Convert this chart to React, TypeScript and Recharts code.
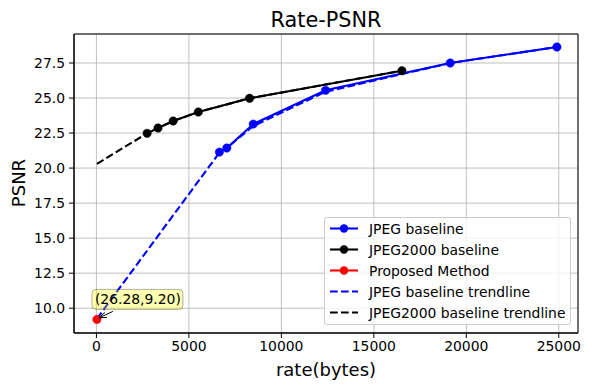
import React from 'react';
import { LineChart, Line, XAxis, YAxis, CartesianGrid, ReferenceArea, Legend } from 'recharts';

// values
const jpegRate = [6650, 7050, 8480, 12390, 19130, 24900];
const jpegPsnr = [21.14, 21.43, 23.14, 25.55, 27.5, 28.64];
const j2kRate = [2740, 3330, 4150, 5510, 8280, 16520];
const j2kPsnr = [22.48, 22.86, 23.36, 24.0, 24.98, 26.95];
const proposedRate = [26.28];
const proposedPsnr = [9.2];
const jpegTrendRate = [26.28, 6650, 7050, 8480, 12390, 19130, 24900];
const jpegTrendPsnr = [9.25, 21.1, 21.45, 23.0, 25.45, 27.5, 28.64];
const j2kTrendRate = [26.28, 2740, 3330, 4150, 5510, 8280, 16520];
const j2kTrendPsnr = [20.3, 22.48, 22.86, 23.36, 24.0, 24.98, 26.95];

const xTicks = [0, 5000, 10000, 15000, 20000, 25000];
const yTicks = [10, 12.5, 15, 17.5, 20, 22.5, 25, 27.5];
const xDomain = [-1213, 26040];
const yDomain = [8.23, 29.57];

const zip = (xs: number[], ys: number[]) => xs.map((x, i) => ({ x, y: ys[i] }));

const series = [
  { name: 'JPEG baseline', data: zip(jpegRate, jpegPsnr), color: '#0000ff', dashed: false },
  { name: 'JPEG2000 baseline', data: zip(j2kRate, j2kPsnr), color: '#000000', dashed: false },
  { name: 'Proposed Method', data: zip(proposedRate, proposedPsnr), color: '#ff0000', dashed: false },
  { name: 'JPEG baseline trendline', data: zip(jpegTrendRate, jpegTrendPsnr), color: '#0000ff', dashed: true },
  { name: 'JPEG2000 baseline trendline', data: zip(j2kTrendRate, j2kTrendPsnr), color: '#000000', dashed: true },
];

const FONT = 'DejaVu Sans, sans-serif';
const DASH = '7.7 3.3';

function renderLegend() {
  return (
    <div
      style={{
        border: '1px solid #cccccc',
        borderRadius: 3,
        background: 'rgba(255,255,255,0.8)',
        width: 245,
        height: 106,
        boxSizing: 'content-box',
        fontFamily: FONT,
        fontSize: 13.9,
        color: '#000',
      }}
    >
      {series.map((s, i) => (
        <div key={s.name} style={{ position: 'absolute', left: 0, top: 1 + i * 21, height: 21, display: 'flex', alignItems: 'center' }}>
          <svg width={40} height={21} style={{ marginLeft: 5 }}>
            <line x1={1} y1={10.5} x2={29} y2={10.5} stroke={s.color} strokeWidth={2.1} strokeDasharray={s.dashed ? DASH : undefined} />
            {!s.dashed && <circle cx={15} cy={10.5} r={4.2} fill={s.color} />}
          </svg>
          <span style={{ whiteSpace: 'nowrap' }}>{s.name}</span>
        </div>
      ))}
    </div>
  );
}

function Annotation(props: any) {
  const { x, y } = props;
  if (x == null || y == null) return null;
  const px = x;
  const py = y - 1;
  return (
    <g>
      <rect x={px - 5} y={py - 29} width={91} height={20} rx={4} fill="yellow" fillOpacity={0.3} stroke="#000" strokeOpacity={0.3} />
      <text x={px - 2} y={py - 14} fontFamily={FONT} fontSize={13.9} fill="#000">(26.28,9.20)</text>
      <line x1={px + 16} y1={py - 7} x2={px + 2} y2={py - 0.5} stroke="#000" strokeWidth={1} />
      <polyline points={`${px + 8},${py - 6} ${px + 2},${py - 0.5} ${px + 10},${py - 1}`} fill="none" stroke="#000" strokeWidth={1} />
    </g>
  );
}

export default function App() {
  return (
    <div style={{ position: 'absolute', left: 0, top: 0, width: 590, height: 390, fontFamily: FONT, background: '#fff' }}>
      <div style={{ position: 'absolute', left: 0, width: 652, top: 8, textAlign: 'center', fontSize: 20.8, lineHeight: '24px', color: '#000' }}>
        Rate-PSNR
      </div>
      <LineChart width={590} height={390} margin={{ top: 34, right: 12, left: 0, bottom: 0 }}>
        <CartesianGrid stroke="#b0b0b0" strokeWidth={0.8} />
        <XAxis
          dataKey="x"
          type="number"
          domain={xDomain}
          ticks={xTicks}
          allowDataOverflow
          height={57}
          tickSize={5}
          tickMargin={3}
          stroke="#000"
          tick={{ fill: '#000', fontSize: 13.9, fontFamily: FONT }}
          label={(p: any) => (
            <text x={326} y={376} textAnchor="middle" fontSize={18} fontFamily={FONT} fill="#000">rate(bytes)</text>
          )}
        />
        <YAxis
          dataKey="y"
          type="number"
          domain={yDomain}
          ticks={yTicks}
          allowDataOverflow
          width={74}
          tickSize={5}
          tickMargin={4}
          stroke="#000"
          tickFormatter={(v: number) => v.toFixed(1)}
          tick={{ fill: '#000', fontSize: 13.9, fontFamily: FONT }}
          label={(p: any) => (
            <text x={25} y={183} transform="rotate(-90 25 183)" textAnchor="middle" fontSize={18} fontFamily={FONT} fill="#000">PSNR</text>
          )}
        />
        <ReferenceArea x1={xDomain[0]} x2={xDomain[1]} y1={yDomain[0]} y2={yDomain[1]} fill="none" stroke="#000" strokeWidth={1} ifOverflow="visible" />
        {series.map((s) => (
          <Line
            key={s.name}
            data={s.data}
            dataKey="y"
            name={s.name}
            type="linear"
            stroke={s.color}
            strokeWidth={2.1}
            strokeDasharray={s.dashed ? DASH : undefined}
            dot={s.dashed ? false : { r: 4.2, fill: s.color, stroke: s.color, strokeWidth: 0.5 }}
            activeDot={false}
            label={s.name === 'Proposed Method' ? <Annotation /> : undefined}
            isAnimationActive={false}
          />
        ))}
        <Legend
          layout="horizontal"
          verticalAlign="middle"
          align="center"
          content={renderLegend}
          wrapperStyle={{ left: 324, top: 217, width: 247, height: 108 }}
        />
      </LineChart>
    </div>
  );
}
